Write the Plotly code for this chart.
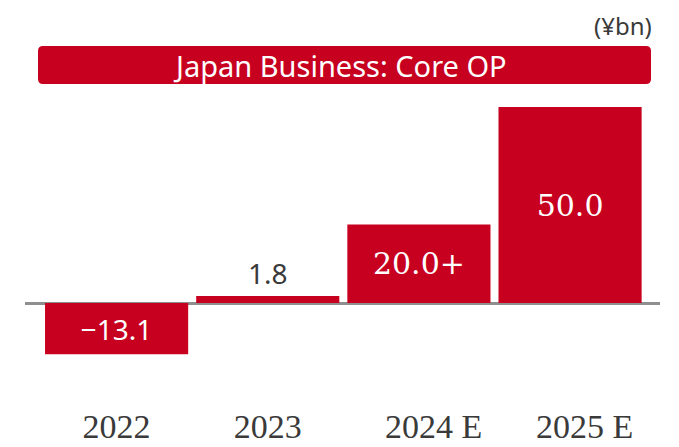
import plotly.graph_objects as go

categories = ["2022", "2023", "2024 E", "2025 E"]
years = ["2022", "2023", "2024", "2025"]
suffixes = ["", "", " E", " E"]
values = [-13.1, 1.8, 20.0, 50.0]
labels = ["\u221213.1", "1.8", "20.0+", "50.0"]
title_text = "Japan Business: Core OP"
unit_text = "(\u00a5bn)"

RED = "#C8001F"
DARK = "#3A3A3A"

# tick text: year centered under bar, suffix hanging right (balanced by invisible copy on left)
ticktext = []
for y, s in zip(years, suffixes):
    if s:
        ticktext.append(f"<span style='fill:rgba(0,0,0,0)'>{s}</span>{y}{s}")
    else:
        ticktext.append(y)

inside_pos = ["inside" if abs(v) > 5 else "none" for v in values]

fig = go.Figure()
fig.add_trace(go.Bar(
    x=list(range(len(categories))), y=values,
    marker=dict(color=RED, line=dict(width=0)),
    text=[l if p == "inside" else "" for l, p in zip(labels, inside_pos)],
    textposition="inside",
    insidetextanchor="middle",
    textangle=0,
    textfont=dict(
        family=["Noto Sans", "Noto Sans", "DejaVu Serif", "DejaVu Serif"],
        size=[28, 28, 30, 30],
        color="white",
    ),
    cliponaxis=False,
    hoverinfo="skip",
))

# outside label for small bar
for i, (v, l, p) in enumerate(zip(values, labels, inside_pos)):
    if p == "none":
        fig.add_annotation(x=i, y=v, xref="x", yref="y", text=l, showarrow=False,
                           yanchor="bottom", yshift=2,
                           font=dict(family="Noto Sans", size=28, color=DARK))

# figure coords (page has 8px body margin): plot area x 17..652, y 92..395 ; zero at y=295
W, H = 671, 439
L, R, T, B = 17, 19, 92, 44
pw, ph = W - L - R, H - T - B
fig.update_layout(
    width=W, height=H,
    margin=dict(l=L, r=R, t=T, b=B, autoexpand=False),
    paper_bgcolor="white", plot_bgcolor="white",
    bargap=0.053,
    showlegend=False,
    xaxis=dict(
        range=[-0.606, 3.595], automargin=False,
        tickmode="array", tickvals=list(range(len(categories))), ticktext=ticktext,
        tickfont=dict(family="Liberation Serif", size=34, color=DARK),
        showgrid=False, showline=False, ticks="", zeroline=False,
    ),
    yaxis=dict(
        range=[-25.51, 51.79], automargin=False,
        showgrid=False, showticklabels=False, ticks="",
        zeroline=True, zerolinecolor="#8F8F8F", zerolinewidth=3,
        showline=False,
    ),
)

def px_x(px):
    return (px - 8 - L) / pw

def px_y(py):
    return (H - B - (py - 8)) / ph

# title bar with rounded corners (paper coords)
x0, x1 = px_x(38), px_x(651)
y0, y1 = px_y(84), px_y(46)
rx, ry = 5 / pw, 5 / ph
path = (f"M {x0+rx},{y0} L {x1-rx},{y0} Q {x1},{y0} {x1},{y0+ry} "
        f"L {x1},{y1-ry} Q {x1},{y1} {x1-rx},{y1} "
        f"L {x0+rx},{y1} Q {x0},{y1} {x0},{y1-ry} "
        f"L {x0},{y0+ry} Q {x0},{y0} {x0+rx},{y0} Z")
fig.add_shape(type="path", path=path, xref="paper", yref="paper",
              fillcolor=RED, line=dict(width=0), layer="above")
fig.add_annotation(x=px_x(340), y=(y0 + y1) / 2, xref="paper", yref="paper",
                   text=title_text, showarrow=False, xanchor="center", yanchor="middle",
                   font=dict(family="Noto Sans", size=29, color="white"))
fig.add_annotation(x=px_x(653), y=px_y(25), xref="paper", yref="paper",
                   text=unit_text, showarrow=False, xanchor="right", yanchor="middle",
                   borderpad=0,
                   font=dict(family="Noto Sans", size=24, color=DARK))

fig.write_html("out.html")
